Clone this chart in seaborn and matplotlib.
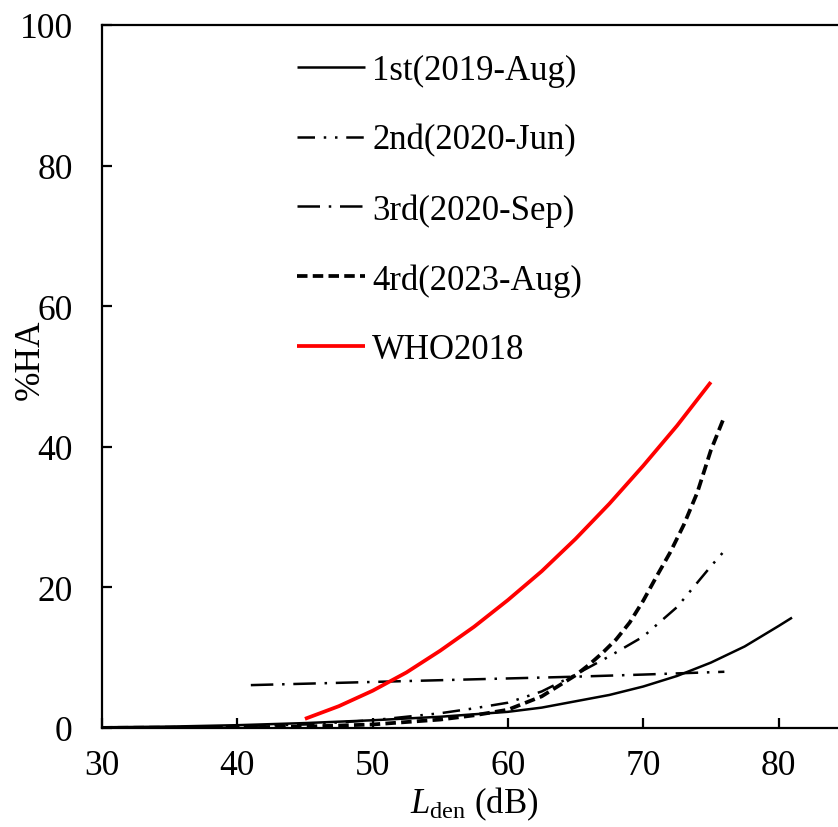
import matplotlib
matplotlib.use("Agg")
import matplotlib.pyplot as plt
import seaborn as sns
import pandas as pd

# ---- data ----
x_1st = [30, 35, 40, 45, 50, 55, 60, 62.5, 65, 67.5, 70, 72.5, 75, 77.5, 80, 81]
y_1st = [0.1, 0.2, 0.4, 0.7, 1.1, 1.6, 2.3, 2.9, 3.8, 4.7, 5.9, 7.4, 9.3, 11.6, 14.5, 15.7]

x_2nd = [30, 35, 40, 45, 50, 55, 57.5, 60, 62.5, 65, 67.5, 70, 72.5, 75, 76]
y_2nd = [0.05, 0.1, 0.25, 0.5, 1.1, 2.1, 2.8, 3.6, 5.2, 7.6, 10.2, 13.0, 17.2, 23.0, 25.2]

x_3rd = [41, 45, 50, 55, 60, 65, 70, 76]
y_3rd = [6.1, 6.3, 6.55, 6.8, 7.05, 7.3, 7.6, 8.0]

x_4th = [30, 35, 40, 45, 50, 55, 57.5, 60, 62.5, 65, 66, 67, 68, 69, 70, 71, 72, 73, 74, 75, 76]
y_4th = [0.02, 0.05, 0.1, 0.2, 0.5, 1.2, 1.8, 2.6, 4.5, 7.5, 9.0, 10.7, 12.6, 15.0, 18.1, 21.6, 25.0, 28.9, 33.5, 39.5, 44.3]

x_who = [45, 47.5, 50, 52.5, 55, 57.5, 60, 62.5, 65, 67.5, 70, 72.5, 75]
y_who = [1.3, 3.1, 5.3, 7.9, 11.0, 14.4, 18.2, 22.3, 26.9, 31.9, 37.3, 43.0, 49.2]

labels = ["1st(2019-Aug)", "2nd(2020-Jun)", "3rd(2020-Sep)", "4rd(2023-Aug)", "WHO2018"]
x_ticks = [30, 40, 50, 60, 70, 80]
y_ticks = [0, 20, 40, 60, 80, 100]

# ---- style ----
sns.set_style("ticks")
plt.rcParams["font.family"] = ["Liberation Serif", "DejaVu Serif"]
plt.rcParams["mathtext.fontset"] = "custom"
plt.rcParams["mathtext.rm"] = "Liberation Serif"
plt.rcParams["mathtext.it"] = "Liberation Serif:italic"
for k in ["text.color", "axes.labelcolor", "xtick.color", "ytick.color", "axes.edgecolor"]:
    plt.rcParams[k] = "black"

fig = plt.figure(figsize=(8.38, 8.28), dpi=100)
W, H = 838, 828
ax_left, ax_bottom, ax_top = 102, 729, 26
ppu = 13.53
ax_w = (85 - 30) * ppu
ax = fig.add_axes([ax_left / W, (H - ax_bottom) / H, ax_w / W, (ax_bottom - ax_top) / H])

series = [
    (x_1st, y_1st, "black", 1.8, None),
    (x_2nd, y_2nd, "black", 1.8, (7, 3.5, 1, 3.5, 1, 3.5)),
    (x_3rd, y_3rd, "black", 1.8, (9, 3.5, 1, 3.5)),
    (x_4th, y_4th, "black", 2.7, (2.8, 1.4)),
    (x_who, y_who, "#ff0000", 2.7, None),
]

for (xs, ys, col, lw, dash), lab in zip(series, labels):
    df = pd.DataFrame({"x": xs, "y": ys})
    sns.lineplot(data=df, x="x", y="y", ax=ax, color=col, linewidth=lw, label=lab,
                 estimator=None, sort=True)
    line = ax.get_lines()[-1]
    if dash is not None:
        line.set_dashes(dash)
    line.set_solid_capstyle("butt")
    line.set_dash_capstyle("butt")

ax.set_xlim(30, 85)
ax.set_ylim(0, 100)
ax.set_xticks(x_ticks)
ax.set_yticks(y_ticks)
ax.tick_params(axis="both", direction="in", length=7, width=1.6, labelsize=25.5,
               colors="black")
ax.tick_params(axis="x", pad=15)
ax.tick_params(axis="y", pad=21)
for s in ax.spines.values():
    s.set_linewidth(1.6)
    s.set_color("black")

ax.set_xlabel(r"$\mathit{L}_{\mathrm{den}}$ (dB)", fontsize=25, labelpad=2)
ax.set_ylabel("%HA", fontsize=25.5, va="center")
ax.yaxis.set_label_coords((30 - ax_left) / ax_w, (ax_bottom - 360) / (ax_bottom - ax_top))

leg = ax.legend(loc="upper left", bbox_to_anchor=(297 / W, 1 - 55 / H),
                bbox_transform=fig.transFigure, frameon=False, fontsize=25,
                handlelength=1.95, handletextpad=0.22, labelspacing=1.05,
                borderpad=0, borderaxespad=0)

fig.savefig("out.png", dpi=100)
